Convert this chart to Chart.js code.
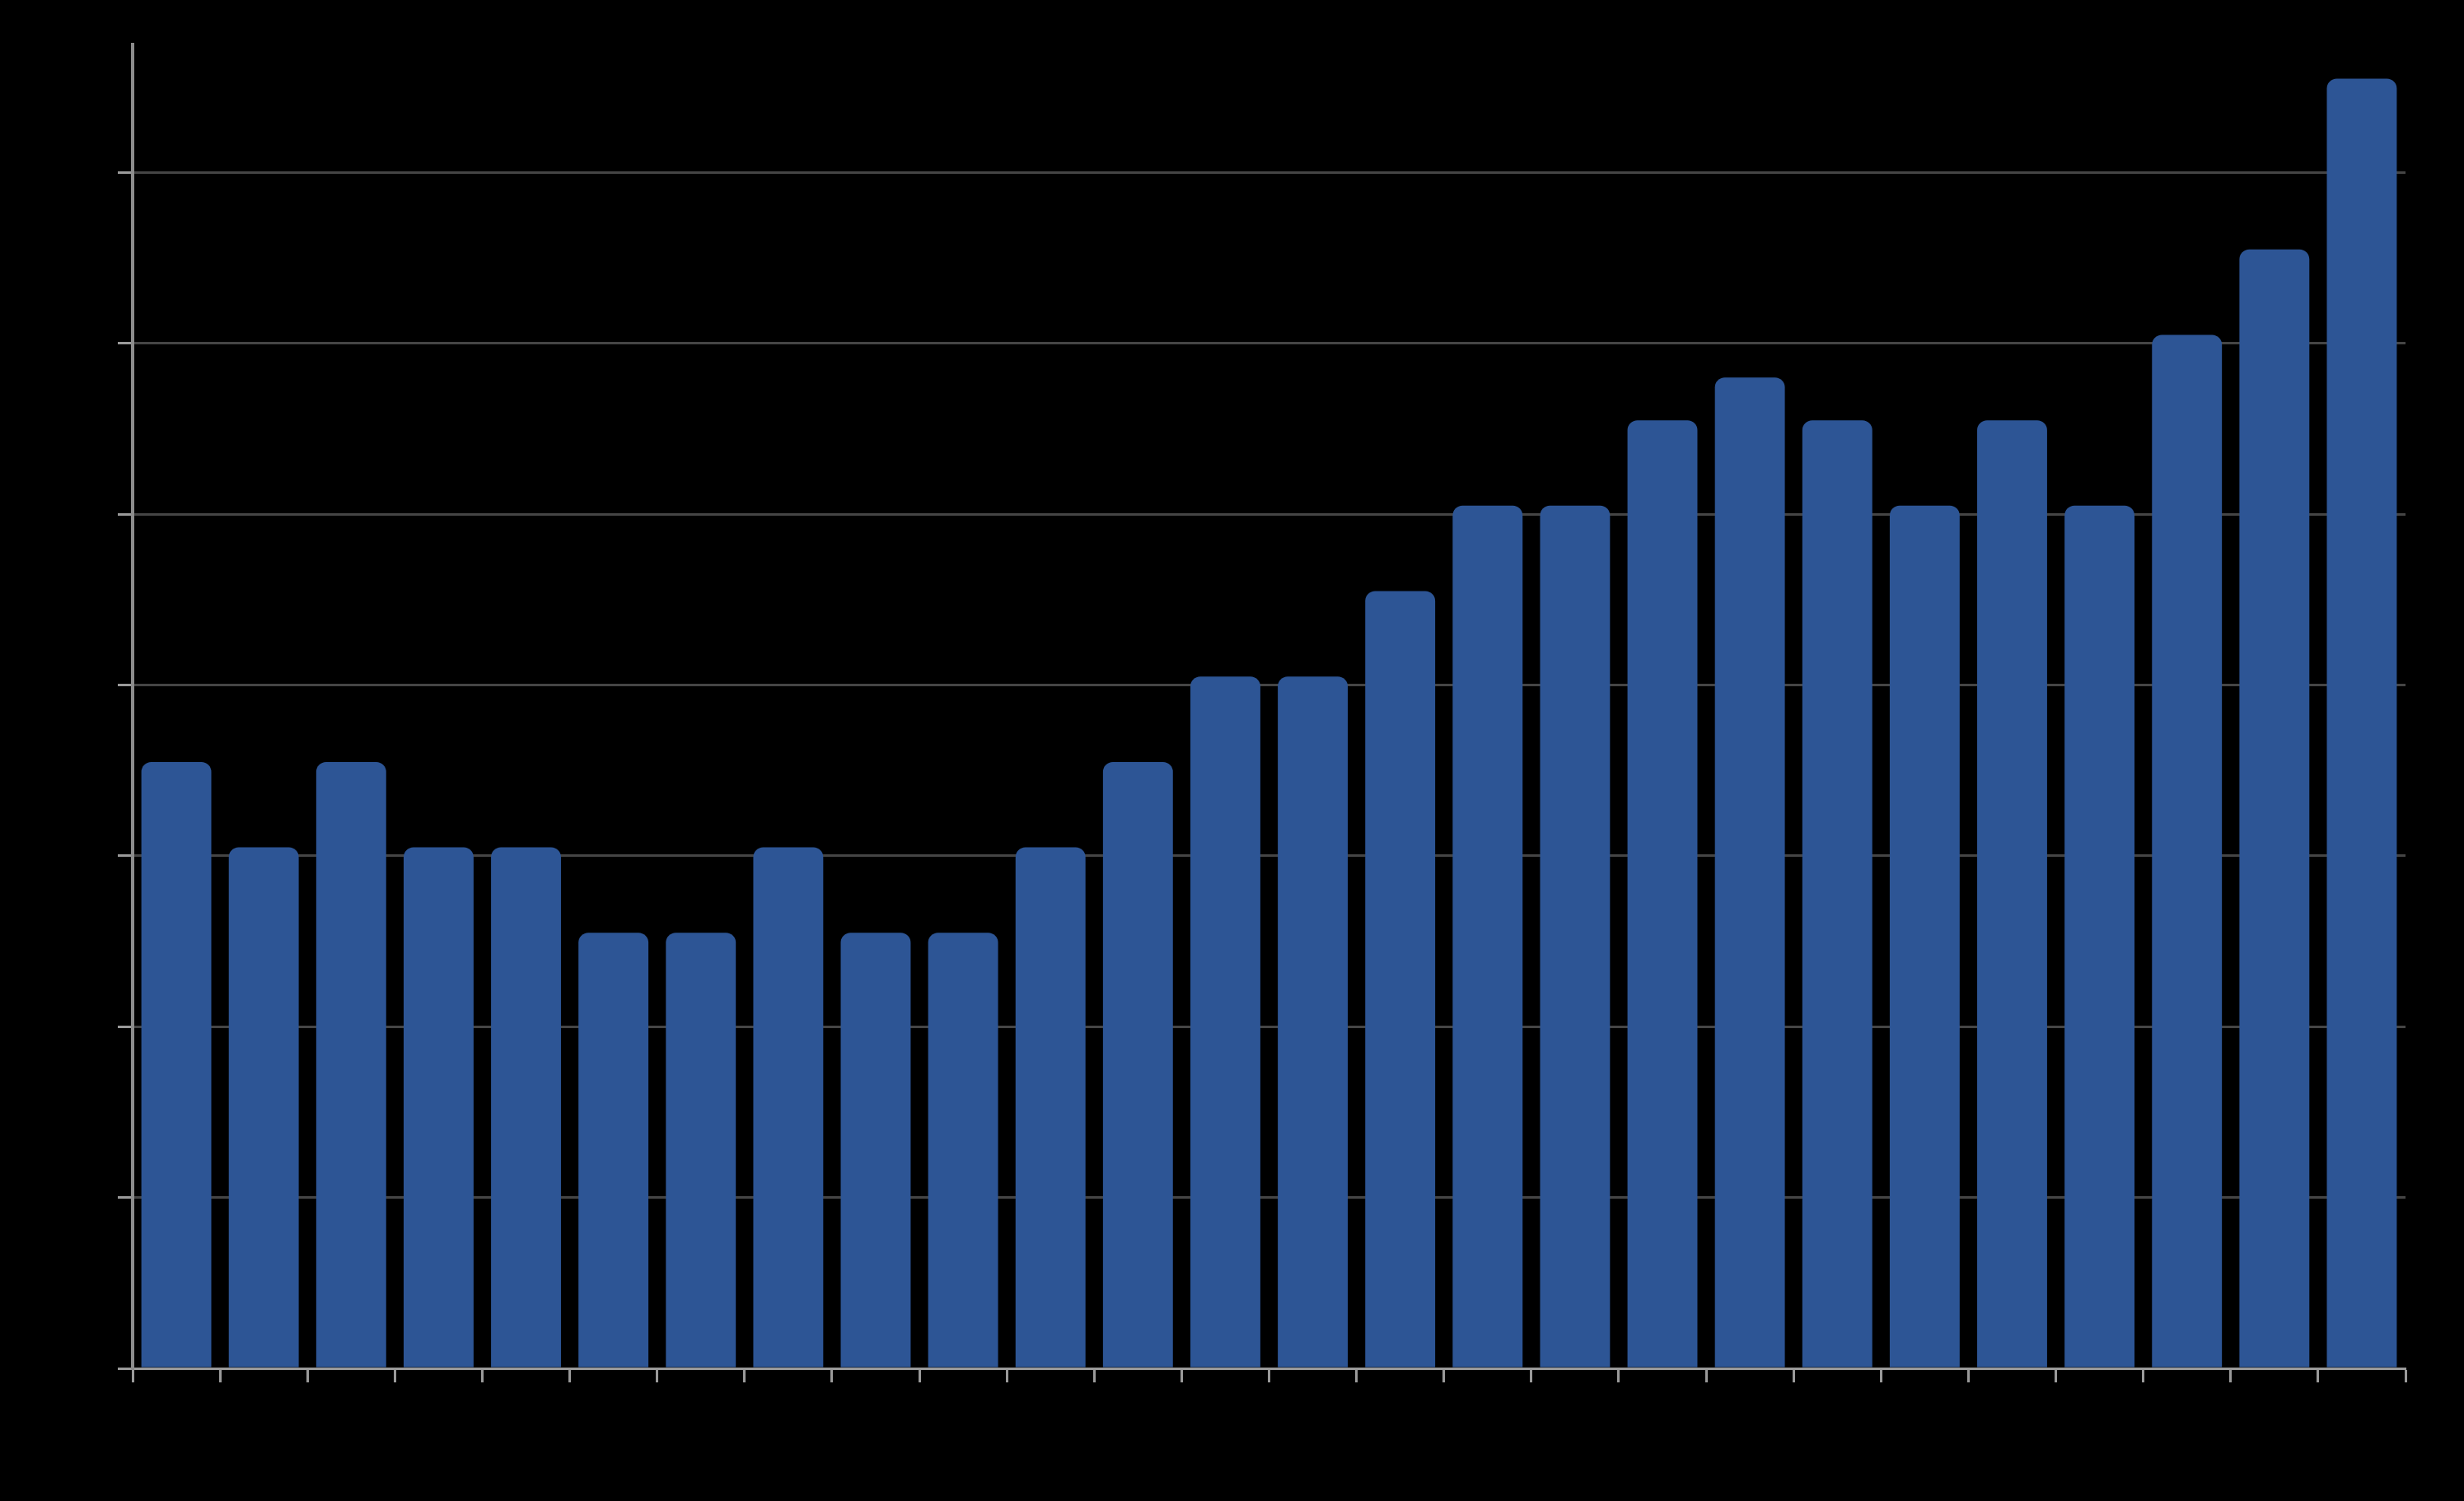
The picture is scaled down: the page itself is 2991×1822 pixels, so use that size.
<!DOCTYPE html>
<html>
<head>
<meta charset="utf-8">
<script src="https://cdn.jsdelivr.net/npm/chart.js@4/dist/chart.umd.min.js"></script>
<style>
  html, body { margin: 0; padding: 0; background: #000000; }
  #wrap { width: 2991px; height: 1822px; position: relative; }
</style>
</head>
<body>
<div id="wrap"><canvas id="c" width="2991" height="1822"></canvas></div>
<script>
// Categories (labels are not visible in the reference; bars are numbered in order)
const categories = ["1","2","3","4","5","6","7","8","9","10","11","12","13",
                    "14","15","16","17","18","19","20","21","22","23","24","25","26"];
// Bar heights
const seriesValues = [3.55, 3.05, 3.55, 3.05, 3.05, 2.55, 2.55, 3.05, 2.55, 2.55, 3.05, 3.55, 4.05,
                      4.05, 4.55, 5.05, 5.05, 5.55, 5.8, 5.55, 5.05, 5.55, 5.05, 6.05, 6.55, 7.55];
// Y axis range / gridline step
const yMin = 0;
const yMax = 7.75;
const yStep = 1;

new Chart(document.getElementById('c'), {
  type: 'bar',
  data: {
    labels: categories,
    datasets: [{
      data: seriesValues,
      backgroundColor: '#2d5595',
      borderWidth: 0,
      borderRadius: 12,
      borderSkipped: 'start',
      barPercentage: 0.8,
      categoryPercentage: 1.0
    }]
  },
  options: {
    responsive: false,
    devicePixelRatio: 1,
    animation: false,
    layout: { padding: { left: 143, top: 54, right: 71, bottom: 144 } },
    plugins: { legend: { display: false }, tooltip: { enabled: false }, title: { display: false } },
    scales: {
      x: {
        offset: true,
        grid: {
          offset: true,
          drawOnChartArea: false,
          drawTicks: true,
          tickLength: 17,
          tickWidth: 3,
          tickColor: '#9a9a9a'
        },
        border: { display: true, color: '#9a9a9a', width: 3 },
        ticks: { display: false }
      },
      y: {
        min: yMin,
        max: yMax,
        grid: {
          color: '#454545',
          lineWidth: 3,
          drawTicks: true,
          tickLength: 18,
          tickWidth: 3,
          tickColor: '#9a9a9a'
        },
        border: { display: true, color: '#8c8c8c', width: 4 },
        ticks: { display: false, stepSize: yStep, includeBounds: false }
      }
    }
  }
});
</script>
</body>
</html>
